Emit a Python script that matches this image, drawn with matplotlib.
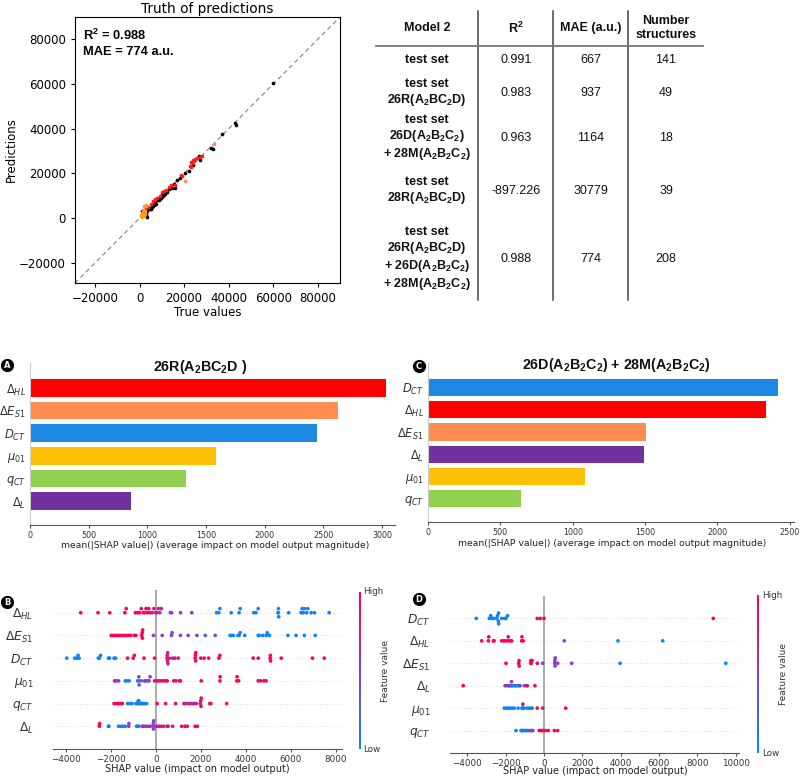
import numpy as np
import matplotlib
matplotlib.use('Agg')
import matplotlib.pyplot as plt
from matplotlib.colors import LinearSegmentedColormap
import matplotlib.colorbar as mcolorbar

plt.rcParams['font.family'] = ['DejaVu Sans']
plt.rcParams['mathtext.fontset'] = 'dejavusans'
plt.rcParams['mathtext.rm'] = 'Liberation Sans'
plt.rcParams['mathtext.bf'] = 'Liberation Sans:bold'
plt.rcParams['mathtext.it'] = 'Liberation Sans:italic'

# ---------------- data: truth of predictions ----------------
black_true = [60000, 43000, 43300, 37000, 32000, 33000, 27000, 26500, 24000, 22000, 20500, 18000, 17000,
              16000, 15500, 14000, 13000, 12500, 12000, 11000, 10500, 10000, 9500, 9000, 8500, 8000, 7500,
              7000, 6500, 6000, 5500, 5000, 4500, 4000, 3500, 3000, 3200, 2500, 2000, 1500, 1000, 14500,
              11500, 9800, 8800, 6800, 5200, 2800]
black_pred = [60500, 42500, 41800, 37500, 31200, 31000, 26000, 28000, 24000, 21000, 20000, 18000, 17000,
              13500, 15500, 14000, 13000, 11500, 12000, 11000, 10000, 10500, 9000, 9500, 8000, 8000, 6500,
              7000, 6000, 5500, 5000, 4500, 4000, 4500, 3000, 2000, 500, 2500, 1500, 1000, 3000, 13500,
              11000, 9000, 8500, 6200, 4000, 1200]
red_true = [27000, 28000, 26000, 24000, 23000, 22500, 23500, 24500, 19000, 18500, 16000, 14000, 12000,
            11000, 10000, 9000, 7000, 6000, 5000, 4000, 3000, 25000, 23000, 13000, 8000]
red_pred = [27500, 28000, 27000, 26000, 25000, 23500, 24500, 25500, 19000, 19500, 15000, 15000, 12500,
            12000, 11500, 10000, 8500, 7500, 6500, 5000, 4500, 26500, 23000, 14000, 9000]
salmon_true = [33500, 20500, 2000, 1500, 1000, 500, 2500, 3000, 1200]
salmon_pred = [33000, 16500, 5500, 3500, 1500, 1000, 2000, 5500, 2500]
orange_true = [1000, 2000, 2500, 1500, 800, 3000]
orange_pred = [500, 1000, 3000, 2000, 1500, 6000]

# ---------------- data: table ----------------
tab_header = ['Model 2', 'R$^\\mathbf{2}$', 'MAE (a.u.)', 'Number\nstructures']
tab_sets = ['test set',
            'test set\n26R(A$_\\mathbf{2}$BC$_\\mathbf{2}$D)',
            'test set\n26D(A$_\\mathbf{2}$B$_\\mathbf{2}$C$_\\mathbf{2}$)\n+ 28M(A$_\\mathbf{2}$B$_\\mathbf{2}$C$_\\mathbf{2}$)',
            'test set\n28R(A$_\\mathbf{2}$BC$_\\mathbf{2}$D)',
            'test set\n26R(A$_\\mathbf{2}$BC$_\\mathbf{2}$D)\n+ 26D(A$_\\mathbf{2}$B$_\\mathbf{2}$C$_\\mathbf{2}$)\n+ 28M(A$_\\mathbf{2}$B$_\\mathbf{2}$C$_\\mathbf{2}$)']
tab_r2 = ['0.991', '0.983', '0.963', '-897.226', '0.988']
tab_mae = ['667', '937', '1164', '30779', '774']
tab_n = ['141', '49', '18', '39', '208']

# ---------------- data: bar plots ----------------
A_features = ['$\\Delta_{HL}$', '$\\Delta E_{S1}$', '$D_{CT}$', '$\\mu_{01}$', '$q_{CT}$', '$\\Delta_L$']
A_values = [3030, 2625, 2445, 1585, 1325, 860]
A_colors = ['#ff0000', '#ff8c50', '#1e88e5', '#ffc107', '#92d050', '#7030a0']
C_features = ['$D_{CT}$', '$\\Delta_{HL}$', '$\\Delta E_{S1}$', '$\\Delta_L$', '$\\mu_{01}$', '$q_{CT}$']
C_values = [2420, 2335, 1505, 1490, 1085, 645]
C_colors = ['#1e88e5', '#ff0000', '#ff8c50', '#7030a0', '#ffc107', '#92d050']

# ---------------- data: beeswarm B (feature value, shap values) ----------------
B_features = A_features
B_dHL = [(1.0, [-3330, -2560, -2040, -1370, -1310, -900, -800, -720, -640, -560, -490, -430, -360, -310, -250]),
         (0.75, [-150, -80, 0, 60, 120, 180, 250]),
         (0.5, [650, 700, 1100, 1600]),
         (0.05, [2700, 2800, 2850, 3350, 3700, 3750, 4350, 4450, 4550, 5430, 5440, 5450, 5460, 5900,
                 6450, 6500, 6550, 6600, 6700, 6750, 6900, 7050, 7700])]
B_dES1 = [(1.0, [-1980, -1900, -1800, -1700, -1600, -1500, -1400, -1300, -1200, -1100, -950, -880,
                 -620, -600, -590, -580]),
          (0.5, [-100, 290, 700, 730, 1100, 1440, 1830]),
          (0.3, [2200, 2640]),
          (0.05, [3300, 3350, 3450, 3650, 3700, 3750, 3950, 4550, 4600, 4750, 4900, 4950, 5050, 5870,
                  6230, 6600, 7080])]
B_DCT = [(0.05, [-3950, -3600, -3500, -3450, -3400, -2550, -2500, -2450, -2100, -2050, -1850, -1780]),
         (0.95, [-1250, -1000, -950, -520, -50]),
         (0.8, [500, 510, 520, 530, 540, 600, 750, 850, 1000]),
         (1.0, [1750, 1760, 1770, 1780, 2000, 2150, 2350, 2800, 2850, 4330, 4550, 5080, 5090, 5100,
                5570, 6960, 7480])]
B_mu = [(0.6, [-1830, -1750, -1650]),
        (0.1, [-1350, -1300, -1180]),
        (0.3, [-800, -760, -750, -740, -650]),
        (0.5, [-500, -450, -350, -300, -250]),
        (0.9, [-50, 50, 150, 250, 350, 450, 510, 800, 900, 1050, 1100]),
        (1.0, [2020, 2850, 2860, 3600, 3610, 3680, 4550, 4650, 4800, 4900])]
B_qCT = [(1.0, [-1850, -1750, -1650, -1550, -1480]),
         (0.05, [-1250, -1150, -1050, -880, -820, -780, -760, -750, -700, -650, -600, -550, -500, -400]),
         (0.9, [70, 440, 880]),
         (0.7, [1250, 1300, 1400, 1500, 1550, 1650, 1700, 1800]),
         (0.9, [1980, 2000, 2010, 2020, 2400, 2450, 3150])]
B_dL = [(1.0, [-2500, -2490]),
        (0.05, [-2100, -2080, -1650, -1550, -1450, -1350]),
        (0.5, [-1200, -1190]),
        (0.05, [-850, -800, -750]),
        (0.6, [-600, -550, -450, -350, -250]),
        (0.5, [-120, -110, -100, -90, -80]),
        (0.8, [50, 150, 250, 350, 500, 550, 750]),
        (1.0, [1150, 1300, 1400, 1750, 1850])]
B_rows = [B_dHL, B_dES1, B_DCT, B_mu, B_qCT, B_dL]

# ---------------- data: beeswarm D ----------------
D_features = C_features
D_DCT = [(0.05, [-3530, -2850, -2780, -2700, -2600, -2470, -2420, -2380, -2370, -2360, -2200, -2050,
                 -1980, -1900]),
         (0.95, [-350, -200, 0]),
         (1.0, [8830])]
D_dHL = [(1.0, [-3250, -2900, -2880, -2640, -2600, -2210, -2100, -2000, -1870, -1860, -1750, -1690,
                -1165, -1150, -1080]),
         (0.5, [1060]),
         (0.05, [3860, 6190])]
D_dES1 = [(1.0, [-1980, -1320, -1300, -1290, -700, -680, -660, -620, -350]),
          (0.5, [-70, 560, 570, 580, 590, 715, 1440]),
          (0.05, [3970, 9480])]
D_dL = [(1.0, [-4210]),
        (0.55, [-2030, -1950, -1850, -1800, -1700, -1690]),
        (0.1, [-1680, -1600, -1500, -1450, -1400, -1300, -1030]),
        (0.55, [-1250, -940]),
        (0.95, [-870, -470])]
D_mu = [(0.05, [-2070, -1950, -1850, -1750, -1650, -1550, -1350, -1150, -1120, -1050, -900, -780,
                -650, -620]),
        (0.9, [-1100, -350, -70]),
        (1.0, [1130])]
D_qCT = [(0.05, [-1460, -1200, -1150, -1100, -1050, -950, -900]),
         (0.45, [-800, -700, -640, -580]),
         (0.95, [-245, -150, -80, 80, 225, 540, 715])]
D_rows = [D_DCT, D_dHL, D_dES1, D_dL, D_mu, D_qCT]

cmap = LinearSegmentedColormap.from_list('shap_rb', ['#008bfb', '#8a3fc8', '#ff0052'])

W, H = 800, 779
fig = plt.figure(figsize=(8, 7.79), dpi=100)


def rect(l, t, r, b):
    return [l / W, 1 - b / H, (r - l) / W, (b - t) / H]


def ftext(x, y, s, **kw):
    return fig.text(x / W, 1 - y / H, s, **kw)


# ---------------- scatter ----------------
ax = fig.add_axes(rect(75, 17, 340, 283))
lims = [-29000, 90000]
ax.plot(lims, lims, ls=(0, (4, 3)), color='gray', lw=0.8, zorder=1)
ax.scatter(black_true, black_pred, s=7, c='black', linewidths=0, zorder=3)
ax.scatter(red_true, red_pred, s=7, c='#ff1a1a', linewidths=0, zorder=4)
ax.scatter(salmon_true, salmon_pred, s=7, c='#ff8c69', linewidths=0, zorder=4)
ax.scatter(orange_true, orange_pred, s=7, c='#ffa500', linewidths=0, zorder=4)
ax.set_xlim(lims)
ax.set_ylim(lims)
ticks = [-20000, 0, 20000, 40000, 60000, 80000]
ax.set_xticks(ticks)
ax.set_yticks(ticks)
ax.tick_params(labelsize=8.5, length=3)
ax.set_xlabel('True values', fontsize=8.5, labelpad=1)
ax.set_ylabel('Predictions', fontsize=8.5, labelpad=1)
ax.set_title('Truth of predictions', fontsize=9.8, pad=3)
ax.text(0.03, 0.96, 'R$^\\mathbf{2}$ = 0.988\nMAE = 774 a.u.', transform=ax.transAxes, ha='left', va='top',
        fontsize=9.3, fontweight='bold', family='Liberation Sans', math_fontfamily='custom', linespacing=1.3)

# ---------------- bar plots ----------------
def barplot(ax, feats, vals, cols, xmax, xticks):
    n = len(feats)
    ypos = np.arange(n)[::-1]
    ax.barh(ypos, vals, height=0.78, color=cols, edgecolor='none')
    ax.set_yticks(ypos)
    ax.set_yticklabels(feats, fontsize=8.3)
    ax.set_xlim(0, xmax)
    ax.set_ylim(-1.05, n + 0.1)
    ax.set_xticks(xticks)
    ax.tick_params(axis='x', labelsize=5.8, length=2.5, color='#555555', labelcolor='#333333', pad=2)
    ax.tick_params(axis='y', length=0, pad=3, labelcolor='#333333')
    for s in ['top', 'right']:
        ax.spines[s].set_visible(False)
    ax.spines['left'].set_color('#cccccc')
    ax.spines['bottom'].set_color('#555555')


axA = fig.add_axes(rect(30, 363, 395, 525))
barplot(axA, A_features, A_values, A_colors, 3110, [0, 500, 1000, 1500, 2000, 2500, 3000])
axC = fig.add_axes(rect(428, 363, 794, 522))
barplot(axC, C_features, C_values, C_colors, 2530, [0, 500, 1000, 1500, 2000, 2500])
bar_xlabel = 'mean(|SHAP value|) (average impact on model output magnitude)'
ftext(215, 545, bar_xlabel, fontsize=6.7, ha='center', va='center', color='#222222')
ftext(612, 543, bar_xlabel, fontsize=6.7, ha='center', va='center', color='#222222')

# ---------------- beeswarm ----------------
def swarm_offsets(xs, row_height=0.4, nbins=100):
    xs = np.asarray(xs, float)
    quant = np.round(nbins * (xs - xs.min()) / (xs.max() - xs.min() + 1e-8))
    inds = np.argsort(quant, kind='stable')
    layer = 0
    last = None
    ys = np.zeros(len(xs))
    for i in inds:
        if quant[i] != last:
            layer = 0
        ys[i] = np.ceil(layer / 2) * ((layer % 2) * 2 - 1)
        layer += 1
        last = quant[i]
    ys *= 0.9 * (row_height / np.max(ys + 1))
    return ys


def beeswarm(ax, feats, rows, xlim, xticks):
    n = len(rows)
    for i, groups in enumerate(rows):
        ypos = n - 1 - i
        xs = np.concatenate([np.asarray(g[1], float) for g in groups])
        cs = np.concatenate([[g[0]] * len(g[1]) for g in groups])
        offs = swarm_offsets(xs)
        ax.axhline(ypos, color='#cccccc', lw=0.6, ls=(0, (1, 3)), zorder=-1)
        ax.scatter(xs, ypos + offs, c=cs, cmap=cmap, vmin=0, vmax=1, s=7, linewidths=0, zorder=3)
    ax.axvline(0, color='#aaaaaa', lw=1.4, zorder=0)
    ax.set_yticks(np.arange(n)[::-1])
    ax.set_yticklabels(feats, fontsize=8.8)
    ax.set_ylim(-1, n)
    ax.set_xlim(xlim)
    ax.set_xticks(xticks)
    ax.tick_params(axis='x', labelsize=6.3, length=2.5, color='#555555', labelcolor='#333333', pad=1.5)
    ax.tick_params(axis='y', length=0, pad=14, labelcolor='#333333')
    for s in ['top', 'right', 'left']:
        ax.spines[s].set_visible(False)
    ax.spines['bottom'].set_color('#555555')


axB = fig.add_axes(rect(53, 590, 342, 749))
beeswarm(axB, B_features, B_rows, (-4560, 8270), [-4000, -2000, 0, 2000, 4000, 6000, 8000])
axD = fig.add_axes(rect(450, 596, 739, 753))
beeswarm(axD, D_features, D_rows, (-4900, 10170), [-4000, -2000, 0, 2000, 4000, 6000, 8000, 10000])
swarm_xlabel = 'SHAP value (impact on model output)'
ftext(197, 769, swarm_xlabel, fontsize=7, ha='center', va='center', color='#222222')
ftext(595, 771, swarm_xlabel, fontsize=7, ha='center', va='center', color='#222222')


def colorbar(l, t, b, textx, labx):
    cax = fig.add_axes(rect(l, t, l + 2, b))
    cb = mcolorbar.ColorbarBase(cax, cmap=cmap, orientation='vertical')
    cb.outline.set_visible(False)
    cax.set_xticks([])
    cax.set_yticks([])
    ftext(textx, t, 'High', fontsize=6.3, ha='left', va='center', color='#333333')
    ftext(textx, b, 'Low', fontsize=6.3, ha='left', va='center', color='#333333')
    ftext(labx, (t + b) / 2, 'Feature value', fontsize=6.5, rotation=90, ha='center',
          va='center', color='#333333')


colorbar(359, 592, 749, 363, 386)
colorbar(757, 595, 753, 762, 784)

# ---------------- overlay: table, titles, panel labels ----------------
ov = fig.add_axes([0, 0, 1, 1], zorder=10)
ov.set_xlim(0, W)
ov.set_ylim(H, 0)
ov.axis('off')
ov.patch.set_alpha(0)

col_x = [427, 516, 591, 666]
row_y = [60, 93, 138, 191, 259]
tkw = dict(family='Liberation Sans', math_fontfamily='custom', ha='center', va='center', fontsize=9,
           linespacing=1.2, color='#111111')
for cx, h in zip(col_x, tab_header):
    ov.text(cx, 28, h, fontweight='bold', **tkw)
for ry, s, r2, mae, nn in zip(row_y, tab_sets, tab_r2, tab_mae, tab_n):
    ov.text(col_x[0], ry, s, fontweight='bold', **tkw)
    ov.text(col_x[1], ry, r2, **tkw)
    ov.text(col_x[2], ry, mae, **tkw)
    ov.text(col_x[3], ry, nn, **tkw)
for vx in [478, 553, 628]:
    ov.plot([vx, vx], [11, 300], color='#444444', lw=1.1)
ov.plot([376, 703], [46, 46], color='#777777', lw=1.3)

ttl = dict(family='Liberation Sans', math_fontfamily='custom', ha='center', va='center', fontsize=10.3,
           fontweight='bold', color='#111111')
ov.text(200, 367, '26R(A$_\\mathbf{2}$BC$_\\mathbf{2}$D )', **ttl)
ov.text(616, 365, '26D(A$_\\mathbf{2}$B$_\\mathbf{2}$C$_\\mathbf{2}$) + 28M(A$_\\mathbf{2}$B$_\\mathbf{2}$C$_\\mathbf{2}$)', **ttl)

for lx, ly, lab in [(7, 365, 'A'), (7, 602, 'B'), (419, 366, 'C'), (419, 599, 'D')]:
    ov.scatter([lx], [ly], s=72, c='black', zorder=5)
    ov.text(lx, ly + 0.3, lab, color='white', fontsize=6, fontweight='bold', ha='center', va='center',
            zorder=6)

fig.savefig('out.png', dpi=100)
